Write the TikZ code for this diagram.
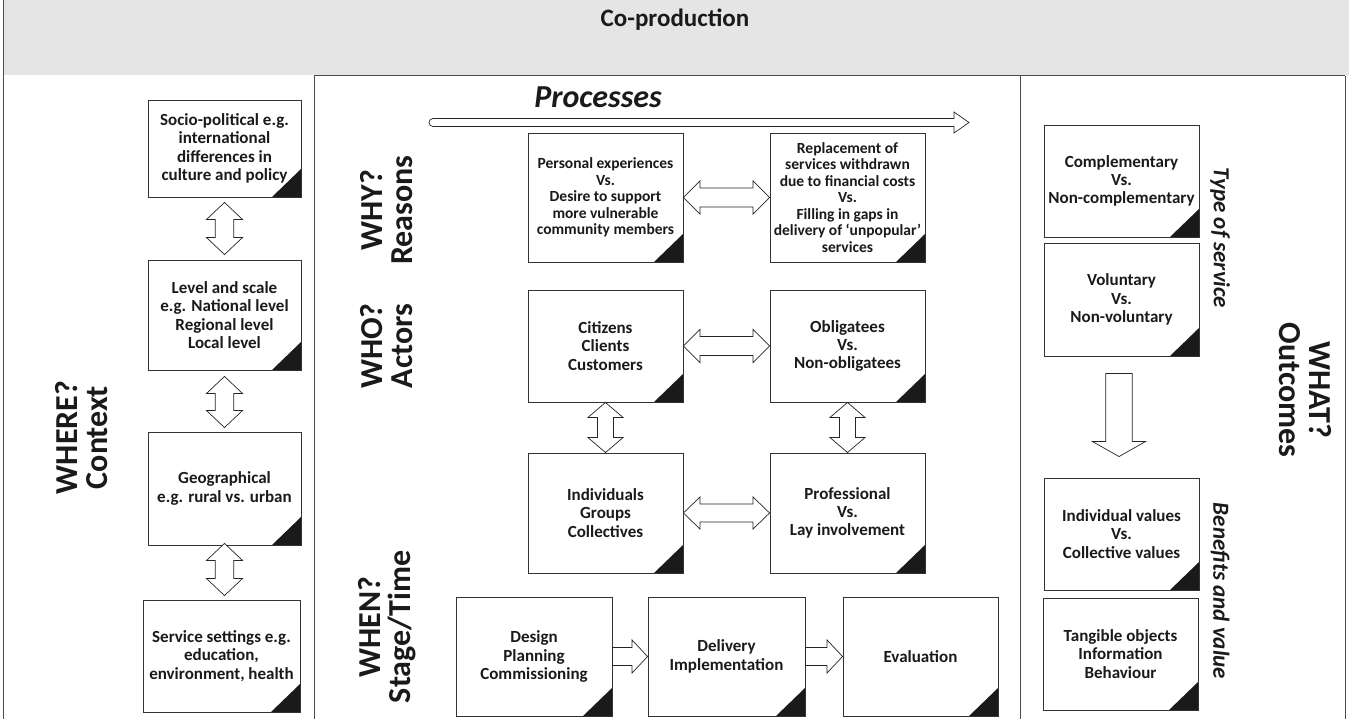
\documentclass[tikz,border=0pt]{standalone}
\usepackage{fontspec}
\setmainfont{Carlito}
\usetikzlibrary{calc}
\definecolor{hdr}{RGB}{228,229,228}
\definecolor{ink}{RGB}{26,26,26}
% vertical double block arrow: #1 upper point, #2 lower point, #3 shaft half, #4 head half, #5 head length
\newcommand\myVarr[5]{\draw[blk] let \p1=(#1), \p2=(#2) in
  (\x1,\y1) -- (\x1+#4pt,\y1-#5pt) -- (\x1+#3pt,\y1-#5pt) -- (\x1+#3pt,\y2+#5pt) -- (\x1+#4pt,\y2+#5pt) -- (\x1,\y2)
  -- (\x1-#4pt,\y2+#5pt) -- (\x1-#3pt,\y2+#5pt) -- (\x1-#3pt,\y1-#5pt) -- (\x1-#4pt,\y1-#5pt) -- cycle;}
% horizontal double block arrow: #1 left point, #2 right point
\newcommand\myHarr[5]{\draw[blk] let \p1=(#1), \p2=(#2) in
  (\x1,\y1) -- (\x1+#5pt,\y1+#4pt) -- (\x1+#5pt,\y1+#3pt) -- (\x2-#5pt,\y1+#3pt) -- (\x2-#5pt,\y1+#4pt) -- (\x2,\y1)
  -- (\x2-#5pt,\y1-#4pt) -- (\x2-#5pt,\y1-#3pt) -- (\x1+#5pt,\y1-#3pt) -- (\x1+#5pt,\y1-#4pt) -- cycle;}
% single right block arrow
\newcommand\myRarr[5]{\draw[blk] let \p1=(#1), \p2=(#2) in
  (\x1,\y1+#3pt) -- (\x2-#5pt,\y1+#3pt) -- (\x2-#5pt,\y1+#4pt) -- (\x2,\y1) -- (\x2-#5pt,\y1-#4pt) -- (\x2-#5pt,\y1-#3pt) -- (\x1,\y1-#3pt) -- cycle;}
% single down block arrow
\newcommand\myDarr[5]{\draw[blk] let \p1=(#1), \p2=(#2) in
  (\x1-#3pt,\y1) -- (\x1+#3pt,\y1) -- (\x1+#3pt,\y2+#5pt) -- (\x1+#4pt,\y2+#5pt) -- (\x1,\y2) -- (\x1-#4pt,\y2+#5pt) -- (\x1-#3pt,\y2+#5pt) -- cycle;}
\begin{document}
\begin{tikzpicture}[x=1pt,y=-1pt,
  cbox/.style={draw=black!80, line width=0.9pt, fill=white, align=center, inner sep=1pt, text=ink,
    font=\bfseries\fontsize{17}{18.3}\selectfont,
    path picture={\fill[ink] (path picture bounding box.south east) -- ++(-29pt,0pt) -- ++(29pt,28pt) -- cycle;}},
  wbox/.style={cbox, font=\bfseries\fontsize{15.5}{16.5}\selectfont},
  sz/.style 2 args={minimum width=#1pt, minimum height=#2pt},
  blk/.style={draw=black!85, line width=0.7pt, fill=white, line join=miter},
  lab/.style={text=ink, align=center, font=\bfseries\fontsize{32}{30}\selectfont},
  ilab/.style={text=ink, font=\bfseries\itshape\fontsize{23}{23}\selectfont},
  frame/.style={draw=black!70, line width=1pt}]
\useasboundingbox (0,0) rectangle (1349,719);
% header and frame
\fill[hdr] (3,0) rectangle (1349,75);
\node[text=ink, font=\bfseries\fontsize{25}{25}\selectfont] (title) at (675,20) {Co-production};
\draw[frame] (3,0) -- (3,719);
\draw[frame] (314,76) -- (1345,76);
\draw[frame] (314,76) -- (314,719);
\draw[frame] (1020,76) -- (1020,719);
\draw[frame] (1345,76) -- (1345,719);

% left column
\node[lab, rotate=90] (where) at (82,437.5) {WHERE?\\Context};
\node[cbox, sz={153}{97}] (L1) at (224.5,148.5) {Socio-political e.g.\\international\\differences in\\culture and policy};
\node[cbox, sz={153}{110}] (L2) at (224.5,315) {Level and scale\\e.g. National level\\Regional level\\Local level};
\node[cbox, sz={153}{113}] (L3) at (224.5,488.5) {Geographical\\e.g. rural vs. urban};
\node[cbox, sz={157}{112}] (L4) at (221.5,656) {Service settings e.g.\\education,\\environment, health};
\myVarr{$(L1.south)+(0,5)$}{$(L2.north)+(0,-5)$}{9.3}{18}{17}
\myVarr{$(L2.south)+(0,6)$}{$(L3.north)+(0,-4)$}{9.3}{18}{17}
\myVarr{$(L3.south)+(0,-2)$}{$(L3.south |- L4.north)+(0,-4)$}{9.3}{18}{17}

% middle column
\node[text=ink, font=\bfseries\itshape\fontsize{32}{32}\selectfont] (proc) at (598,97) {Processes};
\draw[blk] (954,118.5) -- (954,112) -- (969,122.5) -- (954,133) -- (954,126.5) -- (433,126.5)
  arc[start angle=270, end angle=90, radius=4pt] -- cycle;
\node[lab, rotate=90] (why) at (387,210) {WHY?\\Reasons};
\node[lab, rotate=90] (who) at (387,346) {WHO?\\Actors};
\node[lab, rotate=90] (when) at (387,627) {WHEN?\\Stage/Time};
\node[wbox, sz={155}{129}] (W1) at (605.5,197.5)
  {Personal experiences\\Vs.\\Desire to support\\more vulnerable\\community members};
\node[wbox, sz={155}{129}] (W2) at (847.5,197.5)
  {Replacement of\\services withdrawn\\due to financial costs\\Vs.\\Filling in gaps in\\delivery of ‘unpopular’\\services};
\node[cbox, sz={155}{112}] (A1) at (605.5,346) {Citizens\\Clients\\Customers};
\node[cbox, sz={155}{112}] (A2) at (847.5,346) {Obligatees\\Vs.\\Non-obligatees};
\node[cbox, sz={155}{120}] (A3) at (605.5,513) {Individuals\\Groups\\Collectives};
\node[cbox, sz={155}{120}] (A4) at (847.5,513) {Professional\\Vs.\\Lay involvement};
\node[cbox, sz={156}{119}] (T1) at (534,656.5) {Design\\Planning\\Commissioning};
\node[cbox, sz={157}{119}] (T2) at (726.5,656.5) {Delivery\\Implementation};
\node[cbox, sz={155}{119}] (T3) at (920.5,656.5) {Evaluation};
\myHarr{W1.east}{W2.west}{9.5}{16.5}{16.5}
\myHarr{A1.east}{A2.west}{9.5}{16.5}{16.5}
\myHarr{A3.east}{A4.west}{9}{16}{16.5}
\myVarr{A1.south}{A3.north}{8}{17.5}{15}
\myVarr{A2.south}{A4.north}{8}{17.5}{15}
\myRarr{T1.east}{T2.west}{9}{16.5}{15.5}
\myRarr{T2.east}{T3.west}{9}{16.5}{15.5}

% right column
\node[cbox, sz={155}{112}] (R1) at (1121.5,181) {Complementary\\Vs.\\Non-complementary};
\node[cbox, sz={155}{113}] (R2) at (1121.5,299.5) {Voluntary\\Vs.\\Non-voluntary};
\node[cbox, sz={155}{112}] (R3) at (1121.5,534) {Individual values\\Vs.\\Collective values};
\node[cbox, sz={155}{112}] (R4) at (1120.5,654) {Tangible objects\\Information\\Behaviour};
\myDarr{$(R2.south)+(-2.5,17)$}{$(R3.north)+(-2.5,-21)$}{13.25}{26.5}{15}
\node[ilab, rotate=-90] (type) at (1220,238) {Type of service};
\node[ilab, rotate=-90] (bene) at (1220,591) {Benefits and value};
\node[lab, rotate=-90] (what) at (1305,390) {WHAT?\\Outcomes};
\end{tikzpicture}
\end{document}
